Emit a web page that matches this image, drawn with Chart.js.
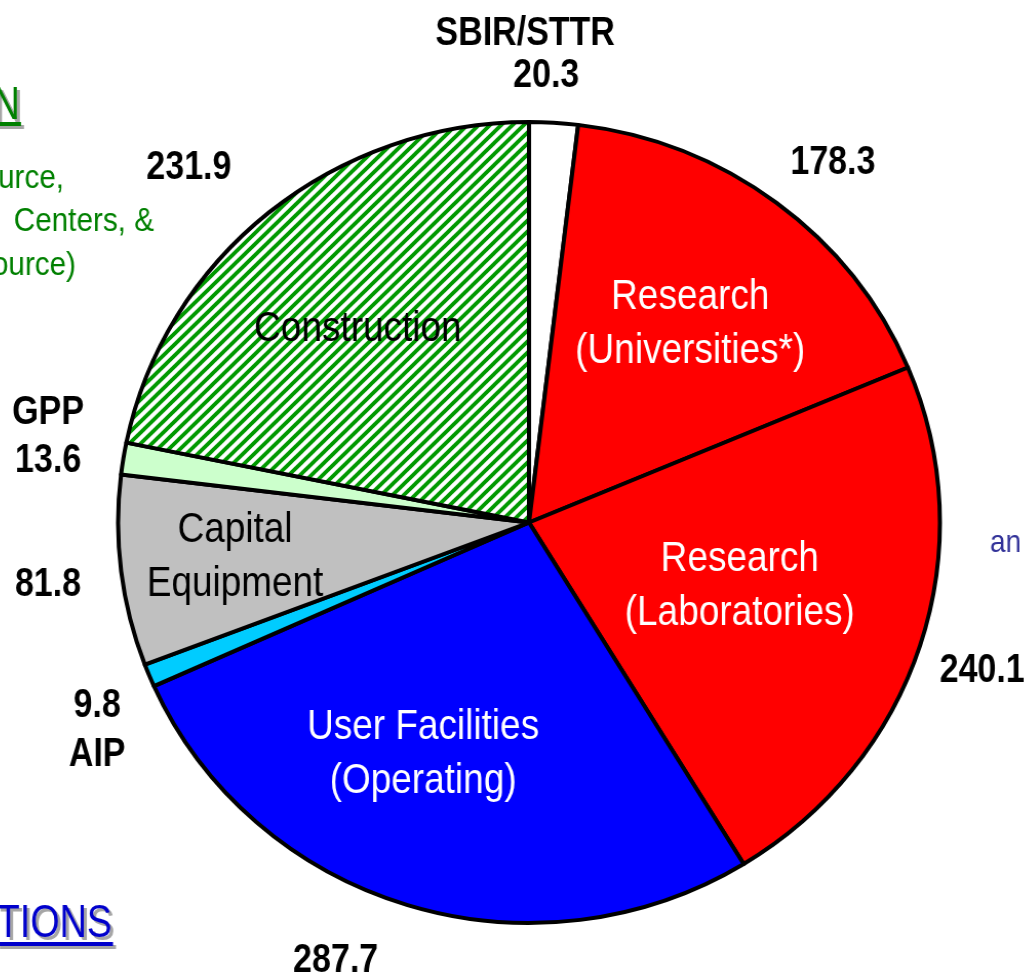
<!DOCTYPE html>
<html>
<head>
<meta charset="utf-8">
<script src="https://cdn.jsdelivr.net/npm/chart.js@4/dist/chart.umd.min.js"></script>
<style>
html,body{margin:0;padding:0;background:#fff;overflow:hidden;width:1024px;height:974px;}
#c{position:absolute;left:0;top:0;width:1024px;height:974px;transform-origin:529px 0;transform:scaleX(1.026);}
</style>
</head>
<body>
<canvas id="c" width="1024" height="974"></canvas>
<script>
// ---- data ----
const categories = ['SBIR/STTR','Research (Universities*)','Research (Laboratories)','User Facilities (Operating)','AIP','Capital Equipment','GPP','Construction'];
const nameLines = [['SBIR/STTR'],['Research','(Universities*)'],['Research','(Laboratories)'],['User Facilities','(Operating)'],['AIP'],['Capital','Equipment'],['GPP'],['Construction']];
const values = [20.3,178.3,240.1,287.7,9.8,81.8,13.6,231.9];
const valueText = values.map(v => v.toFixed(1));
// cropped fragments of surrounding slide text
const fragGreenTitle = 'N';
const fragGreenLines = ['urce,', 'Centers, &', 'ource)'];
const fragBlueTitle = 'TIONS';
const fragBlueSide = 'an';

// ---- styles ----
const S = 1.026;      // horizontal stretch of the pie (CSS)
const CX = 529;
const FONT = "'Liberation Sans',Arial,sans-serif";
const BW = 4;

function makeHatch(){
  const s = 11;
  const c = document.createElement('canvas'); c.width = s; c.height = s;
  const g = c.getContext('2d');
  g.fillStyle = '#ffffff'; g.fillRect(0,0,s,s);
  g.strokeStyle = '#009900'; g.lineWidth = 3.8; g.lineCap='square';
  g.beginPath();
  g.moveTo(0,s); g.lineTo(s,0);
  g.moveTo(-s/2,s/2); g.lineTo(s/2,-s/2);
  g.moveTo(s/2,s*1.5); g.lineTo(s*1.5,s/2);
  g.stroke();
  return g.createPattern(c,'repeat');
}
const hatch = makeHatch();
const sliceColors = ['#ffffff','#ff0000','#ff0000','#0000ff','#00ccff','#c0c0c0','#ccffcc', hatch];

const outerCfg = [
  {order:['name','value'], r:1.171, da:-2.7, lh:42, dx:[-10,11]},
  {order:['value'], r:1.163, da:2.2},
  {order:['value'], r:1.155, da:0.3},
  {order:['value'], r:1.179, da:6.2},
  {order:['value','name'], r:1.163, da:-3.5, lh:49},
  {order:['value'], r:1.174, da:-0.2},
  {order:['name','value'], r:1.185, da:1.5, lh:48},
  {order:['value'], r:1.211, da:-3.6}
];
const innerCfg = [null,
  {r:0.635, da:0.9, color:'#ffffff'},
  {r:0.532, da:-1.5, color:'#ffffff'},
  {r:0.623, da:7.1, color:'#ffffff'},
  null,
  {r:0.716, da:0.7, color:'#000000'},
  null,
  {r:0.640, da:-1.1, color:'#000000'}];
const VAL_SIZE = 40, VAL_XS = 0.85;
const IN_SIZE = 42, IN_XS = 0.88, IN_LH = 54;

function textX(ctx, text, x, y, xs, align){
  ctx.save();
  ctx.translate(x, y);
  ctx.scale(xs, 1);
  ctx.textAlign = align;
  ctx.textBaseline = 'alphabetic';
  ctx.fillText(text, 0, 0);
  ctx.restore();
}

function drawLines(ctx, lines, x, y, size, xs, lh, color, weight, dxs){
  ctx.font = weight + ' ' + size + 'px ' + FONT;
  ctx.fillStyle = color;
  const n = lines.length;
  lines.forEach((t,i)=>{
    const cy = y + (i-(n-1)/2)*lh;
    textX(ctx, t, x + (dxs ? dxs[i] : 0), cy + 0.358*size, xs, 'center');
  });
}

function shadowText(ctx, text, x, y, size, xs, color, underline){
  ctx.font = 'normal ' + size + 'px ' + FONT;
  const w = ctx.measureText(text).width * xs;
  const x0 = x - w;
  const draw = (off, col) => {
    ctx.fillStyle = col;
    textX(ctx, text, x+off, y+off, xs, 'right');
    ctx.fillRect(x0+off, y+underline.dy+off, w+1, underline.h);
  };
  draw(3, '#a6a6a6');
  draw(0, color);
}

const labelPlugin = {
  id: 'pieLabels',
  afterDraw(chart){
    const ctx = chart.ctx;
    const meta = chart.getDatasetMeta(0);
    ctx.save();
    // work in screen space (undo CSS stretch)
    ctx.translate(CX,0); ctx.scale(1/S,1); ctx.translate(-CX,0);
    meta.data.forEach((arc,i)=>{
      const R = arc.outerRadius + BW/2;
      const mid = (arc.startAngle + arc.endAngle)/2;
      const pos = (cfg) => {
        const a = mid + cfg.da*Math.PI/180;
        return [arc.x + Math.cos(a)*cfg.r*R*S, arc.y + Math.sin(a)*cfg.r*R];
      };
      const oc = outerCfg[i];
      const [ox, oy] = pos(oc);
      const lines = [];
      oc.order.forEach(k => { if (k==='name') lines.push(...nameLines[i]); else lines.push(valueText[i]); });
      drawLines(ctx, lines, ox, oy, VAL_SIZE, VAL_XS, oc.lh||48, '#000000', 'bold', oc.dx);
      const ic = innerCfg[i];
      if (ic){
        const [ix, iy] = pos(ic);
        drawLines(ctx, nameLines[i], ix, iy, IN_SIZE, IN_XS, IN_LH, ic.color, 'normal');
      }
    });
    // surrounding slide fragments
    shadowText(ctx, fragGreenTitle, 20, 119, 46, 0.82, '#008000', {dy:3, h:4});
    ctx.font = '33px ' + FONT; ctx.fillStyle = '#008000';
    textX(ctx, fragGreenLines[0], 64, 188, 0.9, 'right');
    textX(ctx, fragGreenLines[1], 154, 231, 0.9, 'right');
    textX(ctx, fragGreenLines[2], 76, 275, 0.9, 'right');
    shadowText(ctx, fragBlueTitle, 112, 937, 46, 0.82, '#0000cc', {dy:5, h:4});
    ctx.font = '32px ' + FONT; ctx.fillStyle = '#333399';
    textX(ctx, fragBlueSide, 990, 552, 0.88, 'left');
    ctx.restore();
  }
};

new Chart(document.getElementById('c'), {
  type: 'pie',
  data: {
    labels: categories,
    datasets: [{
      data: values,
      backgroundColor: sliceColors,
      borderColor: '#000000',
      borderWidth: BW,
      borderJoinStyle: 'round'
    }]
  },
  options: {
    responsive: false,
    animation: false,
    events: [],
    layout: {padding: {top:120, bottom:49, left:126.5, right:92.5}},
    plugins: {legend:{display:false}, tooltip:{enabled:false}}
  },
  plugins: [labelPlugin]
});
</script>
</body>
</html>
